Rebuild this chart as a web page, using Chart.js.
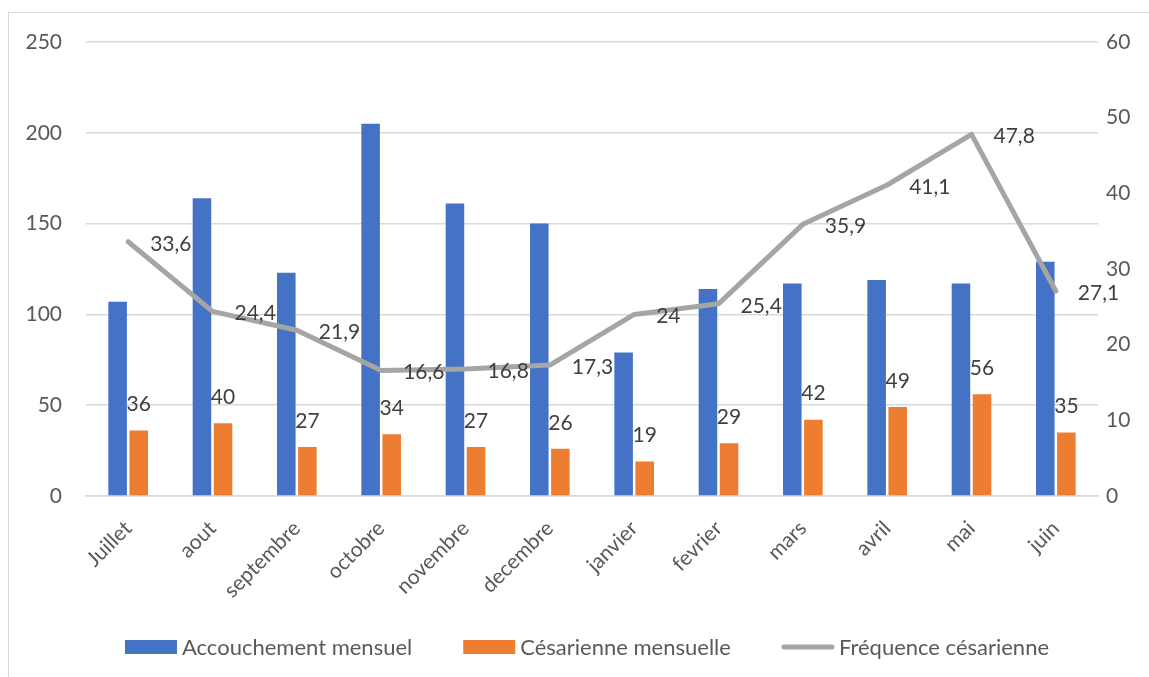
<!DOCTYPE html>
<html>
<head>
<meta charset="utf-8">
<script src="https://cdn.jsdelivr.net/npm/chart.js@4.4.1/dist/chart.umd.min.js"></script>
<style>
  html, body { margin: 0; padding: 0; background: #fff; overflow: hidden; }
  #wrap { position: absolute; left: 0; top: 0; width: 1149px; height: 677px; }
  #frame { position: absolute; left: 8px; top: 12px; width: 1160px; height: 700px; border: 1.5px solid #d9d9d9; box-sizing: border-box; }
  canvas { position: absolute; left: 0; top: 0; }
</style>
</head>
<body>
<div id="wrap">
  <div id="frame"></div>
  <canvas id="c" width="1149" height="677"></canvas>
</div>
<script>
const categories = ["Juillet", "aout", "septembre", "octobre", "novembre", "decembre", "janvier", "fevrier", "mars", "avril", "mai", "juin"];
const accouchement = [107, 164, 123, 205, 161, 150, 79, 114, 117, 119, 117, 129];
const cesarienne = [36, 40, 27, 34, 27, 26, 19, 29, 42, 49, 56, 35];
const frequence = [33.6, 24.4, 21.9, 16.6, 16.8, 17.3, 24, 25.4, 35.9, 41.1, 47.8, 27.1];
const seriesNames = ["Accouchement mensuel", "Césarienne mensuelle", "Fréquence césarienne"];
const leftTicks = [0, 50, 100, 150, 200, 250];
const rightTicks = [0, 10, 20, 30, 40, 50, 60];

const FONT = "Lato, 'Open Sans', sans-serif";
const fmt = v => String(v).replace('.', ',');

const labelPlugin = {
  id: 'valueLabels',
  afterDatasetsDraw(chart) {
    const ctx = chart.ctx;
    ctx.save();
    ctx.font = "21px " + FONT;
    ctx.fillStyle = '#404040';
    const m1 = chart.getDatasetMeta(1);
    m1.data.forEach((el, i) => {
      ctx.textAlign = 'center';
      ctx.textBaseline = 'middle';
      ctx.fillText(fmt(cesarienne[i]), el.x, el.y - 26);
    });
    const m2 = chart.getDatasetMeta(2);
    m2.data.forEach((el, i) => {
      ctx.textAlign = 'left';
      ctx.textBaseline = 'middle';
      ctx.fillText(fmt(frequence[i]), el.x + 22, el.y + 2);
    });
    ctx.restore();
  }
};

// Legend drawn in Excel style: wide swatch, small text gap
const legendPlugin = {
  id: 'excelLegend',
  afterDraw(chart) {
    const ctx = chart.ctx;
    const ds = chart.data.datasets;
    const boxW = 52, boxH = 14, textGap = 5, itemGap = 51, cy = 647, centerX = 587;
    ctx.save();
    ctx.font = "22px " + FONT;
    const widths = ds.map(d => boxW + textGap + ctx.measureText(d.label).width);
    const total = widths.reduce((a, b) => a + b, 0) + itemGap * (ds.length - 1);
    let x = centerX - total / 2;
    ds.forEach((d, i) => {
      if (d.type === 'line') {
        ctx.strokeStyle = d.borderColor;
        ctx.lineWidth = 5;
        ctx.lineCap = 'round';
        ctx.beginPath();
        ctx.moveTo(x + 2, cy);
        ctx.lineTo(x + boxW - 2, cy);
        ctx.stroke();
      } else {
        ctx.fillStyle = d.backgroundColor;
        ctx.fillRect(x, cy - boxH / 2, boxW, boxH);
      }
      ctx.fillStyle = '#595959';
      ctx.textAlign = 'left';
      ctx.textBaseline = 'middle';
      ctx.fillText(d.label, x + boxW + textGap, cy + 1);
      x += widths[i] + itemGap;
    });
    ctx.restore();
  }
};

new Chart(document.getElementById('c'), {
  data: {
    labels: categories,
    datasets: [
      { type: 'bar', label: seriesNames[0], data: accouchement, backgroundColor: '#4472C4', yAxisID: 'y', order: 2,
        categoryPercentage: 0.5, barPercentage: 0.88 },
      { type: 'bar', label: seriesNames[1], data: cesarienne, backgroundColor: '#ED7D31', yAxisID: 'y', order: 3,
        categoryPercentage: 0.5, barPercentage: 0.88 },
      { type: 'line', label: seriesNames[2], data: frequence, borderColor: '#A5A5A5', backgroundColor: '#A5A5A5',
        borderWidth: 5, pointRadius: 0, tension: 0, yAxisID: 'y1', order: 1,
        borderCapStyle: 'round', borderJoinStyle: 'round' }
    ]
  },
  options: {
    responsive: false,
    animation: false,
    layout: { padding: { left: 0, right: 0, top: 42, bottom: 71 } },
    plugins: {
      legend: { display: false },
      tooltip: { enabled: false }
    },
    scales: {
      x: {
        grid: { display: false, drawTicks: false },
        border: { display: true, color: '#d9d9d9', width: 1.5 },
        afterFit(s) { s.height = 110; },
        ticks: { color: '#595959', font: { family: FONT, size: 21 }, minRotation: 45, maxRotation: 45, padding: 20 }
      },
      y: {
        position: 'left', min: 0, max: 250,
        afterBuildTicks(s) { s.ticks = leftTicks.map(v => ({ value: v })); },
        afterFit(s) { s.width = 86; },
        grid: { color: '#d9d9d9', lineWidth: 1.5, drawTicks: false },
        border: { display: false },
        ticks: { color: '#595959', font: { family: FONT, size: 21 }, padding: 24 }
      },
      y1: {
        position: 'right', min: 0, max: 60,
        afterBuildTicks(s) { s.ticks = rightTicks.map(v => ({ value: v })); },
        afterFit(s) { s.width = 51; },
        grid: { display: false, drawTicks: false },
        border: { display: false },
        ticks: { color: '#595959', font: { family: FONT, size: 21 }, padding: 8 }
      }
    }
  },
  plugins: [labelPlugin, legendPlugin]
});
</script>
</body>
</html>
